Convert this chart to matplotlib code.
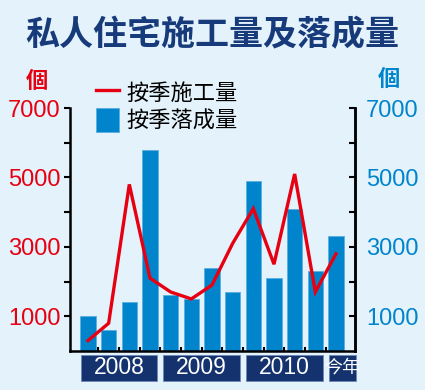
import matplotlib as mpl
mpl.use("Agg")
import matplotlib.pyplot as plt
from matplotlib.patches import Rectangle

plt.rcParams['font.family'] = ['Liberation Sans', 'Noto Sans CJK TC', 'DejaVu Sans']
plt.rcParams['axes.unicode_minus'] = False

# quarterly data, 2008 Q1 .. this year Q1
completed = [1000, 600, 1400, 5800, 1600, 1500, 2400, 1700, 4900, 2100, 4100, 2300, 3300]
starts = [300, 800, 4800, 2100, 1700, 1500, 1900, 3100, 4100, 2500, 5100, 1700, 2800]
year_labels = ['2008', '2009', '2010', '今年']
year_first_bar = [0, 4, 8, 12]
year_n_bars = [4, 4, 4, 1]
tick_vals = [1000, 3000, 5000, 7000]

bg = '#e4f2fb'
red = '#e60012'
blue = '#0085cc'
navy = '#14336e'

fig = plt.figure(figsize=(4.25, 3.9), dpi=100, facecolor=bg)
ax = fig.add_axes([0.1647, 0.1, 0.6706, 0.623])
ax.set_facecolor(bg)

x = list(range(len(completed)))
bars = ax.bar(x, completed, width=0.73, color=blue, edgecolor='#5aaee0', linewidth=0.6,
              zorder=2)
line, = ax.plot(x, starts, color=red, lw=2.4, zorder=3, solid_joinstyle='miter')

ax.set_xlim(-0.87, 12.92)
ax.set_ylim(0, 7000)

ax.spines['top'].set_visible(False)
for s in ['left', 'right', 'bottom']:
    ax.spines[s].set_linewidth(1.8)
    ax.spines[s].set_color('black')

ax.set_yticks(range(1000, 7001, 1000))
ax.set_yticklabels(['' if v not in tick_vals else str(v) for v in range(1000, 7001, 1000)])
ax.tick_params(axis='y', direction='out', length=4, width=1.5, colors='black',
               labelcolor=red, labelsize=17, pad=3)
ax.set_xticks([i + 0.5 for i in range(len(completed) - 1)])
ax.set_xticklabels([])
ax.tick_params(axis='x', direction='in', length=3, width=1.5)

ax2 = ax.twinx()
ax2.set_ylim(0, 7000)
ax2.spines['top'].set_visible(False)
ax2.spines['left'].set_visible(False)
ax2.spines['bottom'].set_visible(False)
ax2.spines['right'].set_linewidth(1.8)
ax2.set_yticks(range(1000, 7001, 1000))
ax2.set_yticklabels(['' if v not in tick_vals else str(v) for v in range(1000, 7001, 1000)])
ax2.tick_params(axis='y', direction='in', length=4, width=1.5, colors='black',
                labelcolor=blue, labelsize=17, pad=8)

# year boxes under the x axis
for lab, first, n in zip(year_labels, year_first_bar, year_n_bars):
    x0 = first - 0.36
    x1 = first + n - 1 + 0.36 if lab != '今年' else 12.98
    ax.add_patch(Rectangle((x0, -110), x1 - x0, -750, transform=ax.transData,
                           facecolor=navy, edgecolor='#6f88b8', linewidth=0.6,
                           clip_on=False, zorder=4))
    ax.text((x0 + x1) / 2, -480, lab, color='white', ha='center', va='center',
            fontsize=16.5 if lab != '今年' else 13, clip_on=False, zorder=5)

# legend
ax.legend([line, bars], ['按季施工量', '按季落成量'],
          loc='upper left', bbox_to_anchor=(0.06, 1.15), frameon=False,
          fontsize=16, handlelength=1.05, handleheight=1.25, handletextpad=0.3,
          labelspacing=0.15, borderaxespad=0)

fig.text(0.087, 0.79, '個', color=red, fontsize=16, fontweight='bold',
         ha='center', va='center', family=['Noto Sans CJK TC'])
fig.text(0.915, 0.797, '個', color=blue, fontsize=16, fontweight='bold',
         ha='center', va='center', family=['Noto Sans CJK TC'])

fig.text(0.5, 0.91, '私人住宅施工量及落成量', color='#163a7a', fontsize=24.5,
         fontweight='heavy', ha='center', va='center', family=['Noto Sans CJK TC'])

fig.savefig('out.png', dpi=100, facecolor=bg)
